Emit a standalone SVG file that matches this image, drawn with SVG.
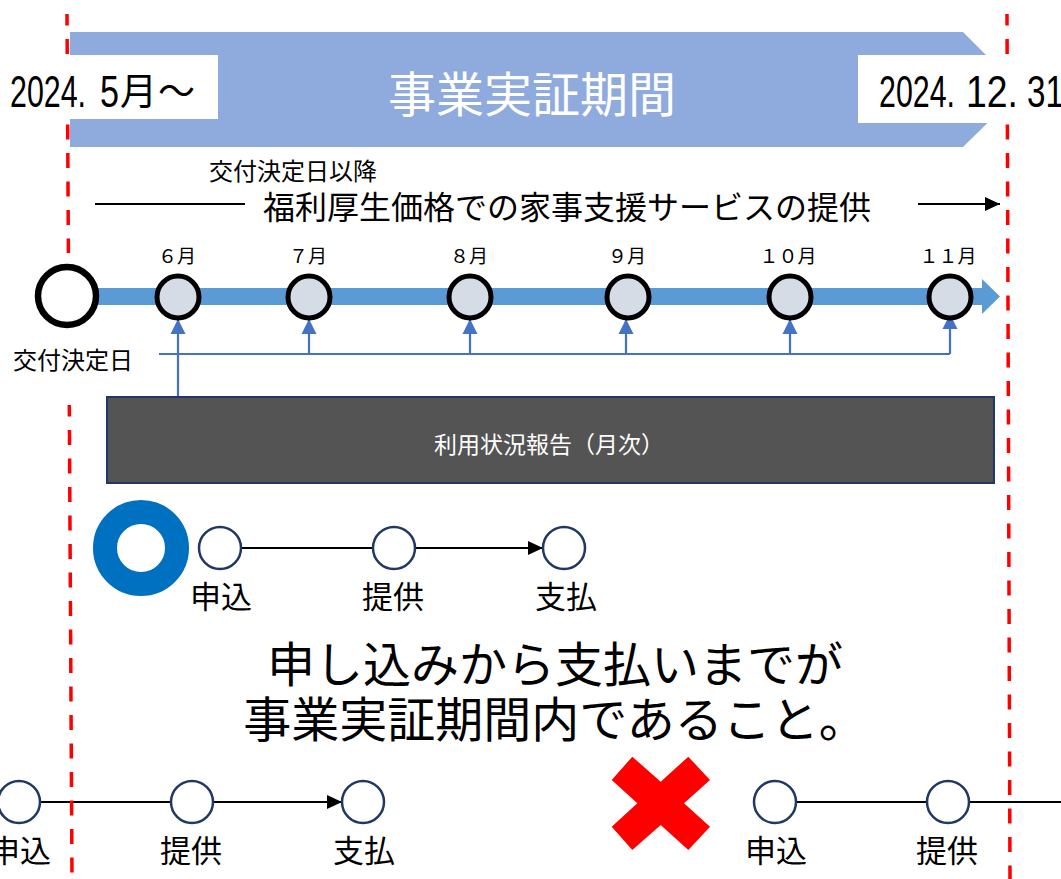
<svg xmlns="http://www.w3.org/2000/svg" width="1061" height="879" viewBox="0 0 1061 879">
<style>
.jp{font-family:"Noto Sans CJK JP","Noto Sans",sans-serif;}
.num{font-family:"Liberation Sans","Noto Sans CJK JP",sans-serif;}
.red{stroke:#FF0000;stroke-width:3.5;stroke-dasharray:15 13.5;stroke-dashoffset:3.5;fill:none;}
.mon{fill:#D6DCE5;stroke:#000;stroke-width:5;}
.step{fill:#FFFFFF;stroke:#1F3864;stroke-width:2.5;}
.blk{stroke:#000;stroke-width:2;fill:none;}
.blu{stroke:#4472C4;stroke-width:2.2;fill:none;}
.lbl{font-size:31px;fill:#000;text-anchor:middle;}
.mlbl{font-size:19px;fill:#000;text-anchor:middle;}
</style>
<defs>
<marker id="ab" markerUnits="userSpaceOnUse" markerWidth="16" markerHeight="16" viewBox="0 0 16 16" refX="15" refY="8" orient="auto">
<path d="M0,1 L15,8 L0,15 Z" fill="#000"/>
</marker>
<marker id="au" markerUnits="userSpaceOnUse" markerWidth="16" markerHeight="16" viewBox="0 0 16 16" refX="15" refY="8" orient="auto">
<path d="M0,0.5 L15,8 L0,15.5 Z" fill="#4472C4"/>
</marker>
</defs>
<rect width="1061" height="879" fill="#FFFFFF"/>

<g id="banner">
<polygon points="70,32 963,32 1021,90 963,147 70,147" fill="#8FAADC"/>
<text class="jp" x="532" y="112" font-size="48" fill="#FFFFFF" text-anchor="middle">事業実証期間</text>
</g>

<g id="connectors">
<line class="blk" x1="95" y1="204" x2="245" y2="204"/>
<line class="blk" x1="918" y1="204" x2="1000" y2="204" marker-end="url(#ab)"/>
<rect x="67" y="288" width="916" height="17" fill="#5B9BD5"/>
<polygon points="982,279 1000,296.5 982,314" fill="#5B9BD5"/>
<polyline class="blu" points="159,354 950,354"/>
<line class="blu" x1="178" y1="397" x2="178" y2="319" marker-end="url(#au)"/>
<line class="blu" x1="309" y1="354" x2="309" y2="319" marker-end="url(#au)"/>
<line class="blu" x1="470" y1="354" x2="470" y2="319" marker-end="url(#au)"/>
<line class="blu" x1="626" y1="354" x2="626" y2="319" marker-end="url(#au)"/>
<line class="blu" x1="790" y1="354" x2="790" y2="319" marker-end="url(#au)"/>
<line class="blu" x1="950" y1="354" x2="950" y2="314" marker-end="url(#au)"/>
<line class="blk" x1="241" y1="548" x2="373" y2="548"/>
<line class="blk" x1="415" y1="548" x2="543" y2="548" marker-end="url(#ab)"/>
<line class="blk" x1="40" y1="802" x2="171" y2="802"/>
<line class="blk" x1="214" y1="802" x2="342" y2="802" marker-end="url(#ab)"/>
<line class="blk" x1="796" y1="802" x2="927" y2="802"/>
<line class="blk" x1="970" y1="802" x2="1061" y2="802"/>
</g>

<g id="service-label">
<text class="jp" x="209" y="180" font-size="24" fill="#000">交付決定日以降</text>
<text class="jp" x="263" y="219" font-size="32" fill="#000">福利厚生価格での家事支援サービスの提供</text>
</g>

<g id="start-node">
<circle cx="67" cy="296" r="29" fill="#FFFFFF" stroke="#000" stroke-width="6.5"/>
<text class="jp" x="13" y="369" font-size="24" fill="#000">交付決定日</text>
</g>

<g id="month-6"><circle class="mon" cx="178" cy="297" r="21"/><text class="jp mlbl" x="177" y="263">６月</text></g>
<g id="month-7"><circle class="mon" cx="309" cy="297" r="21"/><text class="jp mlbl" x="308" y="263">７月</text></g>
<g id="month-8"><circle class="mon" cx="470" cy="297" r="21"/><text class="jp mlbl" x="469" y="263">８月</text></g>
<g id="month-9"><circle class="mon" cx="628" cy="297" r="21"/><text class="jp mlbl" x="627" y="263">９月</text></g>
<g id="month-10"><circle class="mon" cx="790" cy="297" r="21"/><text class="jp mlbl" x="788" y="263">１０月</text></g>
<g id="month-11"><circle class="mon" cx="950" cy="297" r="21"/><text class="jp mlbl" x="948" y="263">１１月</text></g>

<g id="report-box">
<rect x="107" y="397" width="887" height="86" fill="#545454" stroke="#1F3864" stroke-width="2"/>
<text class="jp" x="549" y="453" font-size="23" fill="#FFFFFF" text-anchor="middle">利用状況報告（月次）</text>
</g>

<g id="ok-mark">
<circle cx="141" cy="548" r="36" fill="none" stroke="#0070C0" stroke-width="24"/>
</g>

<g id="ok-apply"><circle class="step" cx="220" cy="548" r="21"/><text class="jp lbl" x="221" y="608">申込</text></g>
<g id="ok-provide"><circle class="step" cx="394" cy="548" r="21"/><text class="jp lbl" x="393" y="608">提供</text></g>
<g id="ok-pay"><circle class="step" cx="564" cy="548" r="21"/><text class="jp lbl" x="566" y="608">支払</text></g>

<g id="message">
<text class="jp" x="555" y="682" font-size="48" fill="#000" text-anchor="middle">申し込みから支払いまでが</text>
<text class="jp" x="555" y="737" font-size="48" fill="#000" text-anchor="middle">事業実証期間内であること。</text>
</g>

<g id="ng-left-apply"><circle class="step" cx="19" cy="802" r="21"/><text class="jp lbl" x="20" y="862">申込</text></g>
<g id="ng-left-provide"><circle class="step" cx="192" cy="802" r="21"/><text class="jp lbl" x="191" y="862">提供</text></g>
<g id="ng-left-pay"><circle class="step" cx="363" cy="802" r="21"/><text class="jp lbl" x="364" y="862">支払</text></g>

<g id="ng-mark">
<polygon points="632.3,756.7 660.7,781.7 688.3,756.7 710,780 684,803.3 710,826.7 688.3,850 660.7,825 632.3,850 611.7,826.7 637.3,803.3 611.7,780" fill="#FF0000"/>
</g>

<g id="ng-right-apply"><circle class="step" cx="775" cy="802" r="21"/><text class="jp lbl" x="776" y="862">申込</text></g>
<g id="ng-right-provide"><circle class="step" cx="948" cy="802" r="21"/><text class="jp lbl" x="947" y="862">提供</text></g>

<g id="period-lines">
<line class="red" x1="67" y1="14" x2="68.4" y2="253"/>
<line class="red" x1="69.3" y1="405" x2="72" y2="879"/>
<line class="red" x1="1007" y1="14" x2="1010" y2="879"/>
</g>

<g id="start-date">
<rect x="0" y="55" width="218" height="64" fill="#FFFFFF"/>
<text class="num" x="10" y="107" font-size="44" fill="#000" textLength="76" lengthAdjust="spacingAndGlyphs">2024.</text>
<text class="num" x="100" y="107" font-size="44" fill="#000" textLength="19" lengthAdjust="spacingAndGlyphs">5</text>
<text class="jp" x="120" y="105" font-size="37" fill="#000">月</text>
<text class="jp" x="158" y="105" font-size="37" fill="#000">～</text>
</g>

<g id="end-date">
<rect x="858" y="55" width="203" height="68" fill="#FFFFFF"/>
<text class="num" x="879" y="107" font-size="44" fill="#000" textLength="76" lengthAdjust="spacingAndGlyphs">2024.</text>
<text class="num" x="966" y="107" font-size="44" fill="#000" textLength="52" lengthAdjust="spacingAndGlyphs">12.</text>
<text class="num" x="1027" y="107" font-size="44" fill="#000" textLength="37" lengthAdjust="spacingAndGlyphs">31</text>
</g>
</svg>
